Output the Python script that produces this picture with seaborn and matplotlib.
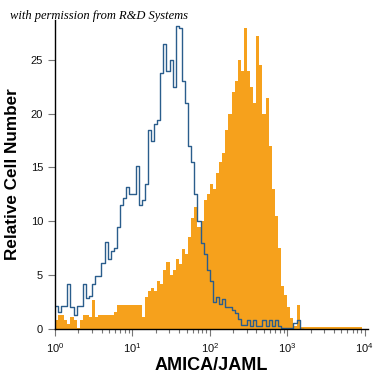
import numpy as np
import pandas as pd
import matplotlib
matplotlib.use("Agg")
import matplotlib.pyplot as plt
import seaborn as sns

# ---- data (log10 fluorescence bins, 0.04 decades wide, from 10^0 to 10^3.2) ----
bin_start = 0.0
bin_step = 0.04
n_bins = 80

isotype_counts = [
    2.1, 1.6, 2.1, 2.1, 4.2, 2.0, 1.3, 2.1, 2.1, 4.2,
    2.9, 3.1, 4.2, 4.9, 4.9, 6.1, 8.1, 6.5, 7.2, 7.5,
    9.5, 11.5, 12.2, 13.2, 12.5, 12.5, 15.1, 11.5, 12.0, 13.5,
    18.5, 17.5, 19.0, 19.4, 23.8, 26.5, 24.0, 25.0, 22.5, 28.1,
    28.0, 23.0, 21.0, 17.0, 15.5, 12.5, 10.0, 8.0, 7.0, 5.5,
    4.5, 2.5, 3.0, 2.3, 2.8, 2.0, 2.0, 1.8, 1.5, 0.9,
    0.4, 0.4, 0.8, 0.3, 0.8, 0.3, 0.3, 0.8, 0.3, 0.8,
    0.3, 0.8, 0.3, 0.1, 0.1, 0.1, 0.1, 0.6, 0.8, 0.0,
]

amica_counts = [
    0.8, 1.3, 1.3, 0.8, 0.5, 1.1, 0.8, 0.1, 0.8, 1.3,
    1.3, 1.1, 2.7, 1.1, 1.3, 1.3, 1.3, 1.3, 1.3, 1.6,
    2.2, 2.2, 2.2, 2.2, 2.2, 2.2, 2.2, 2.2, 1.1, 3.0,
    3.5, 3.8, 3.5, 4.5, 4.2, 5.5, 6.2, 5.0, 5.5, 6.5,
    6.0, 7.4, 7.0, 8.5, 10.3, 11.3, 9.5, 10.0, 12.0, 12.5,
    13.5, 13.0, 14.5, 15.5, 16.3, 18.5, 20.0, 22.0, 23.0, 25.0,
    24.0, 28.0, 24.0, 22.5, 21.0, 27.2, 24.5, 20.0, 21.5, 17.0,
    13.0, 10.5, 7.5, 4.0, 3.2, 2.0, 1.0, 0.3, 2.2, 0.2,
]
amica_tail_end = 3.96
amica_tail_count = 0.15

x_ticks = [1, 10, 100, 1000, 10000]
y_ticks = [0, 5, 10, 15, 20, 25]

# ---- build bins ----
edges = np.round(bin_start + bin_step * np.arange(n_bins + 1), 4)
centers = (edges[:-1] + edges[1:]) / 2
edges_amica = np.append(edges, amica_tail_end)
centers_amica = np.append(centers, (edges[-1] + amica_tail_end) / 2)
counts_amica = amica_counts + [amica_tail_count]

df_iso = pd.DataFrame({"value": 10 ** centers, "count": isotype_counts})
df_ami = pd.DataFrame({"value": 10 ** centers_amica, "count": counts_amica})

orange = "#f6a11c"
blue = "#2a5d8c"

fig = plt.figure(figsize=(3.75, 3.75), dpi=100)
ax = fig.add_axes([0.1467, 0.1227, 0.834, 0.824])

sns.histplot(data=df_ami, x="value", weights="count", bins=list(edges_amica),
             log_scale=True, element="step", fill=True, color=orange,
             alpha=1.0, linewidth=0, ax=ax)
sns.histplot(data=df_iso, x="value", weights="count", bins=list(edges),
             log_scale=True, element="step", fill=False, color=blue,
             linewidth=1.0, ax=ax)

ax.set_xlim(1, 10 ** 4.04)
ax.set_ylim(0, 28.7)
ax.set_xticks(x_ticks)
ax.set_yticks(y_ticks)

for s in ["top", "right"]:
    ax.spines[s].set_visible(False)
for s in ["left", "bottom"]:
    ax.spines[s].set_color("black")
    ax.spines[s].set_linewidth(1.0)

ax.tick_params(axis="both", which="major", direction="out", length=5,
               color="#777777", labelsize=8, labelcolor="#111111", width=0.8)
ax.tick_params(axis="x", which="minor", direction="out", length=3,
               color="#777777", width=0.8)

ax.set_xlabel("AMICA/JAML", fontsize=13, fontweight="bold",
              family="Liberation Sans", labelpad=2)
ax.set_ylabel("Relative Cell Number", fontsize=12.3, fontweight="bold",
              family="Liberation Sans", labelpad=8)
for lab in ax.get_xticklabels() + ax.get_yticklabels():
    lab.set_family("Liberation Sans")

fig.text(0.027, 0.957, "with permission from R&D Systems", fontsize=9,
         style="italic", family="Liberation Serif", va="center", ha="left")

fig.savefig("out.png", dpi=100)
